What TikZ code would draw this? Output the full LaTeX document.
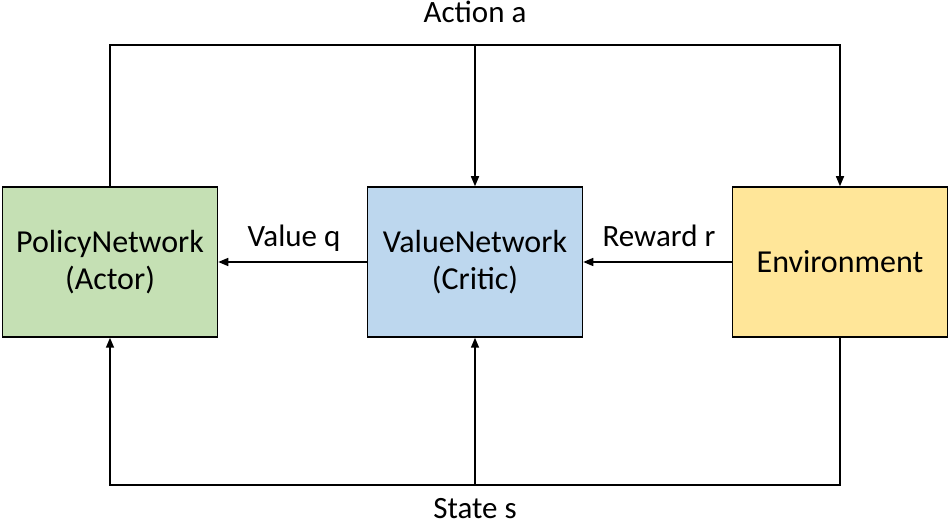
\documentclass[tikz,border=0pt]{standalone}
\usepackage{fontspec}
\setmainfont{Carlito}
\usetikzlibrary{arrows.meta}
\definecolor{pgreen}{HTML}{C5E0B4}
\definecolor{pblue}{HTML}{BDD7EE}
\definecolor{pyellow}{HTML}{FFE699}
\tikzset{
  box/.style={draw=black, line width=1.5pt, minimum width=215pt, minimum height=150pt, align=center, inner sep=0pt, font=\fontsize{32}{37}\selectfont},
  conn/.style={line width=1.5pt, -{Triangle[length=10pt,width=8pt]}},
  lbl/.style={anchor=base, inner sep=0pt, font=\fontsize{31}{37}\selectfont}
}
\begin{document}
\begin{tikzpicture}[x=1pt,y=-1pt]
\useasboundingbox (0,0) rectangle (950,526);
\node[box, fill=pgreen] (policy) at (110,262) {PolicyNetwork\\(Actor)};
\node[box, fill=pblue] (value) at (475,262) {ValueNetwork\\(Critic)};
\node[box, fill=pyellow] (env) at (840,262) {Environment};
\coordinate (tl) at (110,45);
\coordinate (bl) at (110,485);
% top: action
\draw[conn] (policy.north) -- (tl) -| (env.north);
\draw[conn] (value.north |- tl) -- (value.north);
% bottom: state
\draw[conn] (env.south) -- (env.south |- bl) -| (policy.south);
\draw[conn] (value.south |- bl) -- (value.south);
% horizontal
\draw[conn] (value.west) -- (policy.east);
\draw[conn] (env.west) -- (value.east);
% labels
\node[lbl] (la) at (475,23) {Action a};
\node[lbl] (lv) at (294,247) {Value q};
\node[lbl] (lr) at (659,247) {Reward r};
\node[lbl] (ls) at (475,518) {State s};
\end{tikzpicture}
\end{document}
